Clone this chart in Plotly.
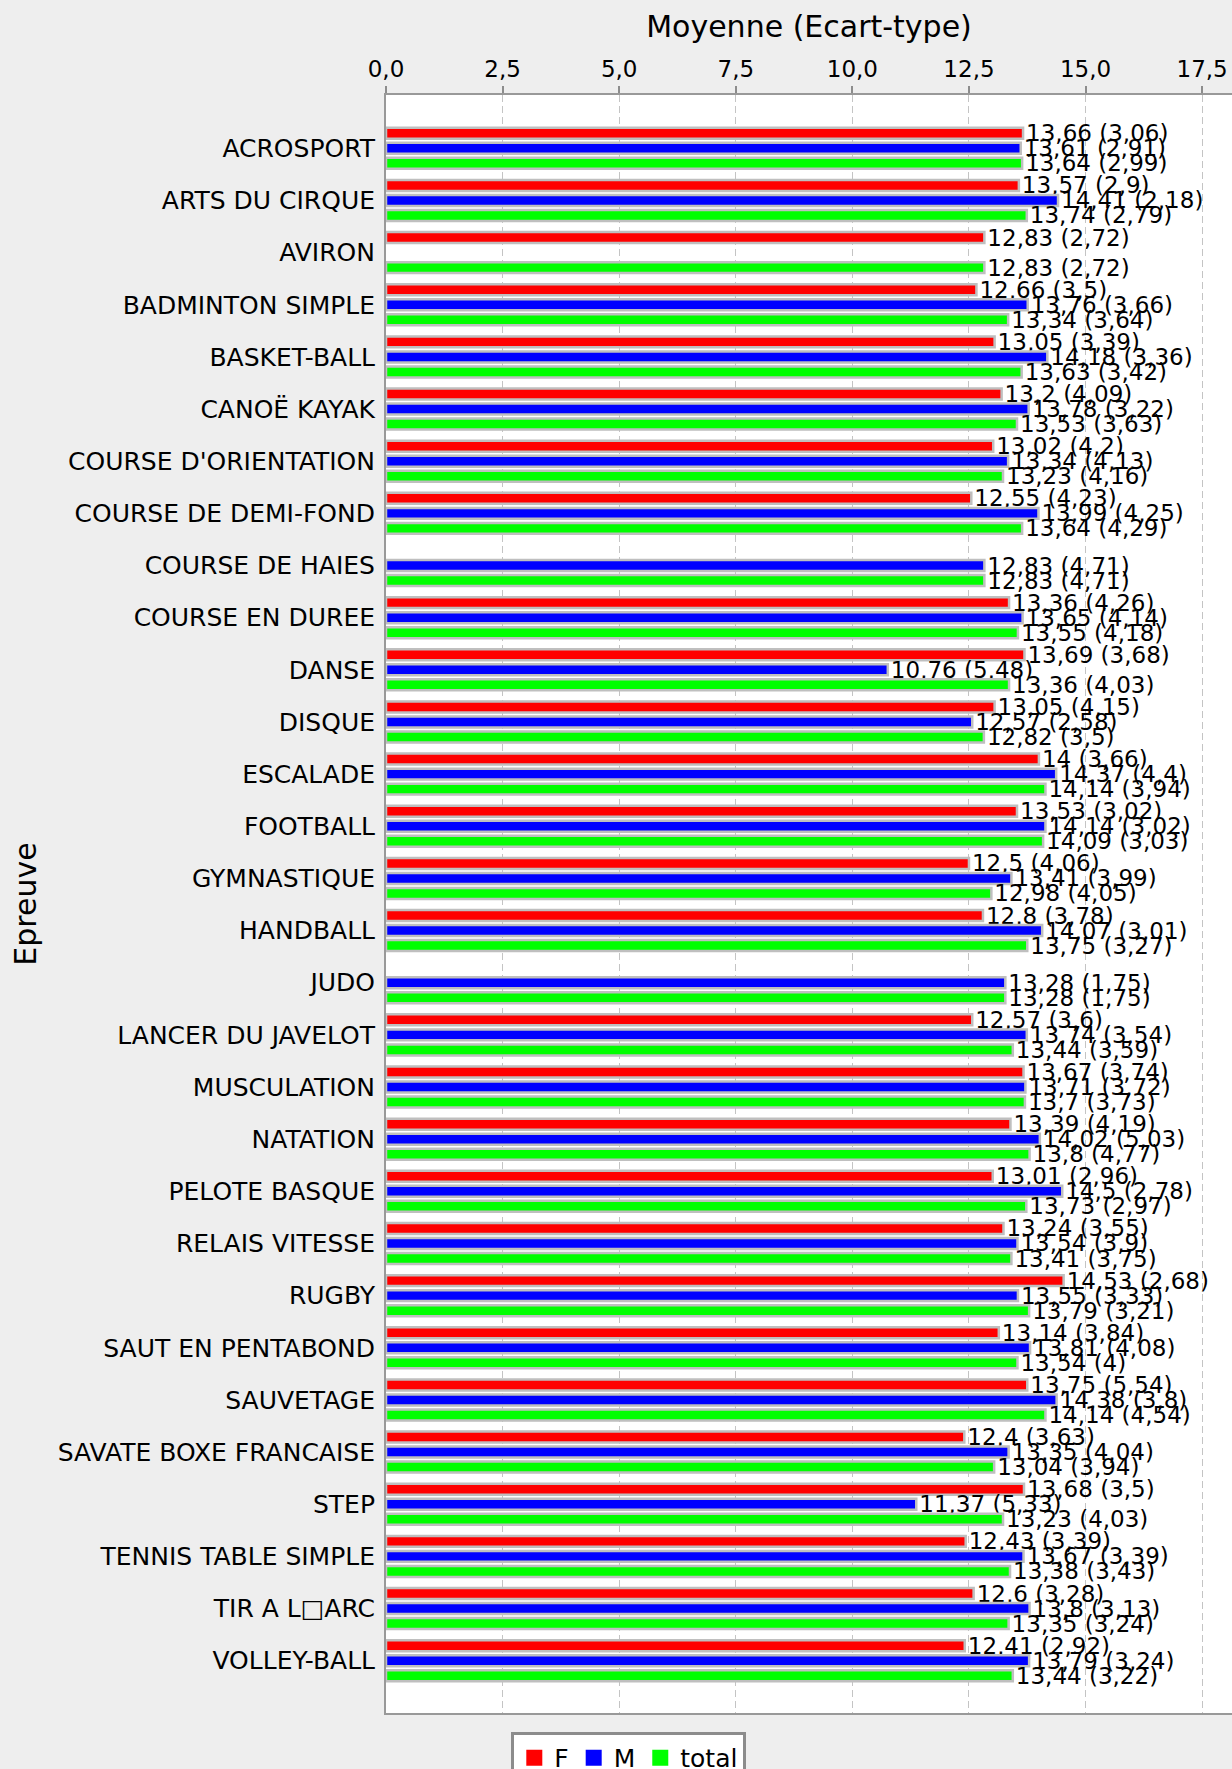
"""Moyenne (Ecart-type) par epreuve et par sexe, barres horizontales groupees."""

import plotly.graph_objects as go

# Epreuves, de haut en bas
categories = [
    "ACROSPORT", "ARTS DU CIRQUE", "AVIRON", "BADMINTON SIMPLE", "BASKET-BALL",
    "CANOË KAYAK", "COURSE D'ORIENTATION", "COURSE DE DEMI-FOND", "COURSE DE HAIES",
    "COURSE EN DUREE", "DANSE", "DISQUE", "ESCALADE", "FOOTBALL", "GYMNASTIQUE",
    "HANDBALL", "JUDO", "LANCER DU JAVELOT", "MUSCULATION", "NATATION",
    "PELOTE BASQUE", "RELAIS VITESSE", "RUGBY", "SAUT EN PENTABOND", "SAUVETAGE",
    "SAVATE BOXE FRANCAISE", "STEP", "TENNIS TABLE SIMPLE", "TIR A L\u25a1ARC",
    "VOLLEY-BALL",
]

f_mean = [13.66, 13.57, 12.83, 12.66, 13.05, 13.2, 13.02, 12.55, None, 13.36,
          13.69, 13.05, 14, 13.53, 12.5, 12.8, None, 12.57, 13.67, 13.39,
          13.01, 13.24, 14.53, 13.14, 13.75, 12.4, 13.68, 12.43, 12.6, 12.41]
f_sd = [3.06, 2.9, 2.72, 3.5, 3.39, 4.09, 4.2, 4.23, None, 4.26,
        3.68, 4.15, 3.66, 3.02, 4.06, 3.78, None, 3.6, 3.74, 4.19,
        2.96, 3.55, 2.68, 3.84, 5.54, 3.63, 3.5, 3.39, 3.28, 2.92]

m_mean = [13.61, 14.41, None, 13.76, 14.18, 13.78, 13.34, 13.99, 12.83, 13.65,
          10.76, 12.57, 14.37, 14.14, 13.41, 14.07, 13.28, 13.74, 13.71, 14.02,
          14.5, 13.54, 13.55, 13.81, 14.38, 13.35, 11.37, 13.67, 13.8, 13.79]
m_sd = [2.91, 2.18, None, 3.66, 3.36, 3.22, 4.13, 4.25, 4.71, 4.14,
        5.48, 2.58, 4.4, 3.02, 3.99, 3.01, 1.75, 3.54, 3.72, 5.03,
        2.78, 3.9, 3.33, 4.08, 3.8, 4.04, 5.33, 3.39, 3.13, 3.24]

t_mean = [13.64, 13.74, 12.83, 13.34, 13.63, 13.53, 13.23, 13.64, 12.83, 13.55,
          13.36, 12.82, 14.14, 14.09, 12.98, 13.75, 13.28, 13.44, 13.7, 13.8,
          13.73, 13.41, 13.79, 13.54, 14.14, 13.04, 13.23, 13.38, 13.35, 13.44]
t_sd = [2.99, 2.79, 2.72, 3.64, 3.42, 3.63, 4.16, 4.29, 4.71, 4.18,
        4.03, 3.5, 3.94, 3.03, 4.05, 3.27, 1.75, 3.59, 3.73, 4.77,
        2.97, 3.75, 3.21, 4, 4.54, 3.94, 4.03, 3.43, 3.24, 3.22]

series = [
    ("F", f_mean, f_sd, "#ff0000"),
    ("M", m_mean, m_sd, "#0000ff"),
    ("total", t_mean, t_sd, "#00ff00"),
]

FONT = "DejaVu Sans"


def fmt(v):
    """Nombre a la francaise, sans zeros inutiles."""
    return f"{v:g}".replace(".", ",")


def make_labels(means, sds):
    return ["" if m is None else f"{fmt(m)} ({fmt(s)})" for m, s in zip(means, sds)]


fig = go.Figure()

for name, means, sds, color in series:
    fig.add_trace(go.Bar(
        x=means,
        y=categories,
        orientation="h",
        name=name,
        showlegend=False,
        marker=dict(color=color, line=dict(color="#bfbfbf", width=2.5)),
        text=make_labels(means, sds),
        textposition="outside",
        constraintext="none",
        cliponaxis=False,
        textfont=dict(family=FONT, size=23, color="black"),
        hoverinfo="x+y+name",
    ))

# legend entries with plain square symbols
for name, means, sds, color in series:
    fig.add_trace(go.Scatter(
        x=[None], y=[None], mode="markers", name=name,
        marker=dict(symbol="square", size=16, color=color),
    ))

fig.update_layout(
    width=1232,
    height=1769,
    barmode="group",
    bargap=0.136,
    bargroupgap=0.27,
    separators=", ",
    paper_bgcolor="#eeeeee",
    plot_bgcolor="white",
    font=dict(family=FONT, size=23, color="black"),
    margin=dict(l=386, r=0, t=95, b=56, autoexpand=False),
    legend=dict(
        orientation="h",
        x=0.287, xanchor="center",
        y=-0.0117, yanchor="top",
        bgcolor="white",
        bordercolor="#8c8c8c",
        borderwidth=3,
        font=dict(family=FONT, size=25),
    ),
)

fig.update_xaxes(
    side="top",
    range=[0, 18.14],
    tick0=0, dtick=2.5, tickformat=".1f",
    ticks="outside", ticklen=7, tickwidth=2, tickcolor="#8c8c8c",
    tickfont=dict(family=FONT, size=23),
    showline=True, linecolor="#999999", linewidth=2, mirror=True,
    showgrid=True, gridcolor="#c4c4c4", gridwidth=1, griddash="7px,4px",
    zeroline=False,
    title=dict(text="Moyenne (Ecart-type)", font=dict(family=FONT, size=30), standoff=9),
)

fig.update_yaxes(
    type="category",
    categoryorder="array", categoryarray=categories,
    range=[30.003, -1.022],
    ticks="", ticklabelstandoff=4,
    tickfont=dict(family=FONT, size=25),
    showline=True, linecolor="#999999", linewidth=2,
    showgrid=False, zeroline=False,
    title=dict(text="Epreuve", font=dict(family=FONT, size=30), standoff=12),
)

# page sans marge pour que la figure remplisse la fenetre
fig.write_html(
    "out.html",
    config={"displayModeBar": False},
    post_script="document.body.style.margin='0';",
)
